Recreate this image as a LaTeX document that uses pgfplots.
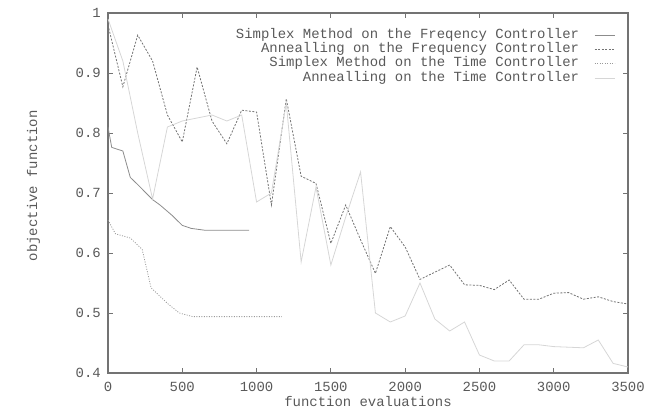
\documentclass[border=0pt]{standalone}
\usepackage{fontspec}
\setmainfont{Liberation Mono}
\usepackage{pgfplots}
\pgfplotsset{compat=1.18}
\definecolor{txt}{gray}{0.35}
\definecolor{frame}{gray}{0.45}
\definecolor{csf}{gray}{0.55}
\definecolor{caf}{gray}{0.45}
\definecolor{cst}{gray}{0.6}
\definecolor{cat}{gray}{0.84}
\begin{document}
\begin{tikzpicture}
\begin{axis}[
  name=ax, at={(0,0)}, anchor=south west,
  scale only axis, width=520bp, height=360bp,
  xmin=0, xmax=3500, ymin=0.4, ymax=1,
  xtick={0,500,1000,1500,2000,2500,3000,3500},
  xticklabels={0,500,1000,1500,2000,2500,3000,3500},
  ytick={0.4,0.5,0.6,0.7,0.8,0.9,1},
  yticklabels={0.4,0.5,0.6,0.7,0.8,0.9,1},
  tick align=inside, major tick length=5bp,
  axis line style={draw=frame, line width=1.4bp},
  tick style={draw=frame, line width=0.8bp},
  every tick label/.append style={font=\fontsize{14}{16}\selectfont, text=txt},
  xticklabel style={anchor=base, inner sep=0pt, yshift=-18bp},
  yticklabel style={anchor=east, inner sep=0pt, xshift=-7bp},
  xlabel={function evaluations},
  ylabel={objective function},
  label style={font=\fontsize{14}{16}\selectfont, text=txt},
  xlabel style={at={(rel axis cs:0.5,0)}, anchor=base, inner sep=0pt, yshift=-33bp},
  ylabel style={at={(rel axis cs:-0.1365,0.52)}, anchor=base, inner sep=0pt},
  legend cell align=right,
  legend plot pos=right,
  legend image code/.code={\path (-15bp,0bp); \draw[#1] (0bp,0bp) -- (20bp,0bp);},
  legend style={at={(rel axis cs:0.981,0.964)}, anchor=north east, draw=none, fill=none,
    font=\fontsize{14}{16}\selectfont, text=txt,
    nodes={inner sep=0pt, text height=10bp, text depth=4.3bp}},
]
\addplot[csf, line width=0.8bp] coordinates {
(0,0.81) (25,0.776) (100,0.77) (150,0.726) (200,0.714) (300,0.689) (350,0.68)
(430,0.663) (500,0.646) (560,0.641) (650,0.638) (950,0.638)};
\addlegendentry{Simplex Method on the Freqency Controller}
\addplot[caf, line width=0.8bp, dash pattern=on 2bp off 1.5bp] coordinates {
(0,0.98) (100,0.877) (200,0.963) (300,0.92) (400,0.83) (500,0.785) (600,0.91)
(700,0.82) (800,0.782) (900,0.838) (1000,0.835) (1100,0.68) (1200,0.857)
(1300,0.728) (1400,0.716) (1500,0.616) (1600,0.68) (1700,0.622) (1800,0.566)
(1900,0.644) (2000,0.61) (2100,0.556) (2200,0.568) (2300,0.58) (2400,0.547)
(2500,0.546) (2600,0.539) (2700,0.555) (2800,0.523) (2900,0.523) (3000,0.533)
(3100,0.534) (3200,0.523) (3300,0.527) (3400,0.519) (3500,0.515)};
\addlegendentry{Annealling on the Frequency Controller}
\addplot[cst, line width=0.8bp, dash pattern=on 1bp off 1.5bp] coordinates {
(0,0.655) (50,0.632) (150,0.625) (230,0.606) (290,0.542) (400,0.516)
(480,0.5) (570,0.494) (1170,0.494)};
\addlegendentry{Simplex Method on the Time Controller}
\addplot[cat, line width=0.8bp] coordinates {
(0,0.99) (100,0.92) (200,0.80) (300,0.69) (400,0.81) (500,0.82) (600,0.825)
(700,0.83) (800,0.82) (900,0.83) (1000,0.685) (1100,0.70) (1200,0.85)
(1300,0.585) (1400,0.71) (1500,0.58) (1600,0.66) (1700,0.735) (1800,0.50)
(1900,0.485) (2000,0.495) (2100,0.55) (2200,0.49) (2300,0.47) (2400,0.485)
(2500,0.43) (2600,0.42) (2700,0.42) (2800,0.447) (2900,0.447) (3000,0.444)
(3100,0.443) (3200,0.442) (3300,0.455) (3400,0.416) (3500,0.41)};
\addlegendentry{Annealling on the Time Controller}
\end{axis}
\pgfresetboundingbox
\path[use as bounding box] (-108bp,-39bp) rectangle (538bp,373bp);
\end{tikzpicture}
\end{document}
